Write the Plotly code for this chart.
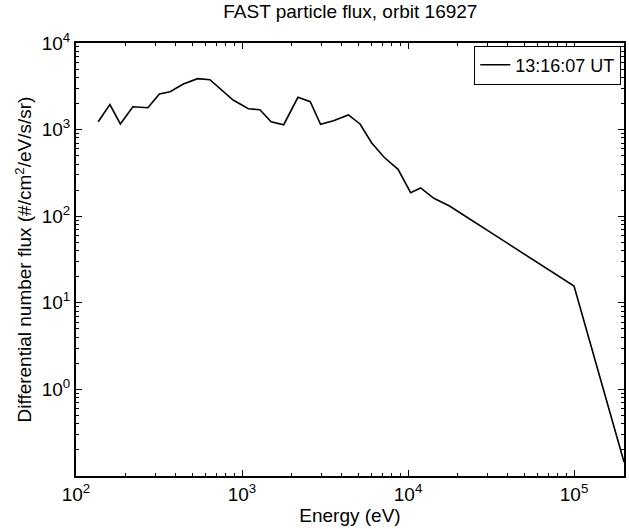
import plotly.graph_objects as go
import numpy as np

# energy channels (eV) and differential number flux
energy = [136, 160, 185, 220, 271, 318, 369, 443, 540, 641, 884, 1092, 1282, 1497,
          1783, 2172, 2577, 2972, 3556, 4373, 5140, 6030, 7180, 8710, 10370, 11910,
          14310, 17780, 100000, 200000]
flux = [1233, 1942, 1161, 1836, 1790, 2577, 2740, 3363, 3874, 3766, 2198, 1742, 1698,
        1233, 1139, 2361, 2100, 1151, 1267, 1475, 1161, 706, 479, 348, 187, 212,
        161, 131, 15.6, 0.145]

x_major = [1e2, 1e3, 1e4, 1e5]
x_major_text = ["10<sup>2</sup>", "10<sup>3</sup>", "10<sup>4</sup>", "10<sup>5</sup>"]
y_major = [1e-1, 1e0, 1e1, 1e2, 1e3, 1e4]
y_major_text = ["", "10<sup>0</sup>", "10<sup>1</sup>", "10<sup>2</sup>", "10<sup>3</sup>", "10<sup>4</sup>"]

x_minor = [m * 10 ** d for d in range(2, 6) for m in range(2, 10) if m * 10 ** d <= 2e5]
y_minor = [m * 10 ** d for d in range(-1, 4) for m in range(2, 10)]

fig = go.Figure()
fig.add_trace(go.Scatter(x=energy, y=flux, mode="lines", name="13:16:07 UT",
                         line=dict(color="black", width=1.6)))

axis_style = dict(type="log", showline=True, linecolor="black", linewidth=2,
                  mirror="ticks", ticks="inside", ticklen=6, tickwidth=1,
                  tickcolor="black", showgrid=False, zeroline=False,
                  tickfont=dict(size=19))

fig.update_xaxes(range=[2, np.log10(2e5)], tickvals=x_major, ticktext=x_major_text,
                 minor=dict(tickvals=x_minor, ticks="inside", ticklen=3,
                            tickcolor="black", showgrid=False),
                 title=dict(text="Energy (eV)", font=dict(size=19), standoff=0),
                 **axis_style)
fig.update_yaxes(range=[-1, 4], tickvals=y_major, ticktext=y_major_text,
                 minor=dict(tickvals=y_minor, ticks="inside", ticklen=3,
                            tickcolor="black", showgrid=False),
                 **axis_style)

# y title as a rotated annotation so it sits centred on the axes like the original
fig.add_annotation(text="Differential number flux (#/cm<sup>2</sup>/eV/s/sr)",
                   xref="paper", yref="paper", x=0, y=0.5, xanchor="center",
                   yanchor="middle", xshift=-53, textangle=-90, showarrow=False,
                   font=dict(size=19))

fig.update_layout(
    width=629, height=529,
    margin=dict(l=76, r=3, t=43, b=53),
    paper_bgcolor="white", plot_bgcolor="white",
    font=dict(family="Liberation Sans, Arial, sans-serif", color="black", size=18),
    title=dict(text="FAST particle flux, orbit 16927", x=0.557, xanchor="center",
               y=0.992, yanchor="top", font=dict(size=19)),
    showlegend=True,
    legend=dict(x=0.995, y=0.994, xanchor="right", yanchor="top",
                bordercolor="black", borderwidth=1, bgcolor="white",
                font=dict(size=18), tracegroupgap=0),
)

fig.write_html("out.html", config={"displayModeBar": False},
               post_script="document.body.style.margin='0';")
